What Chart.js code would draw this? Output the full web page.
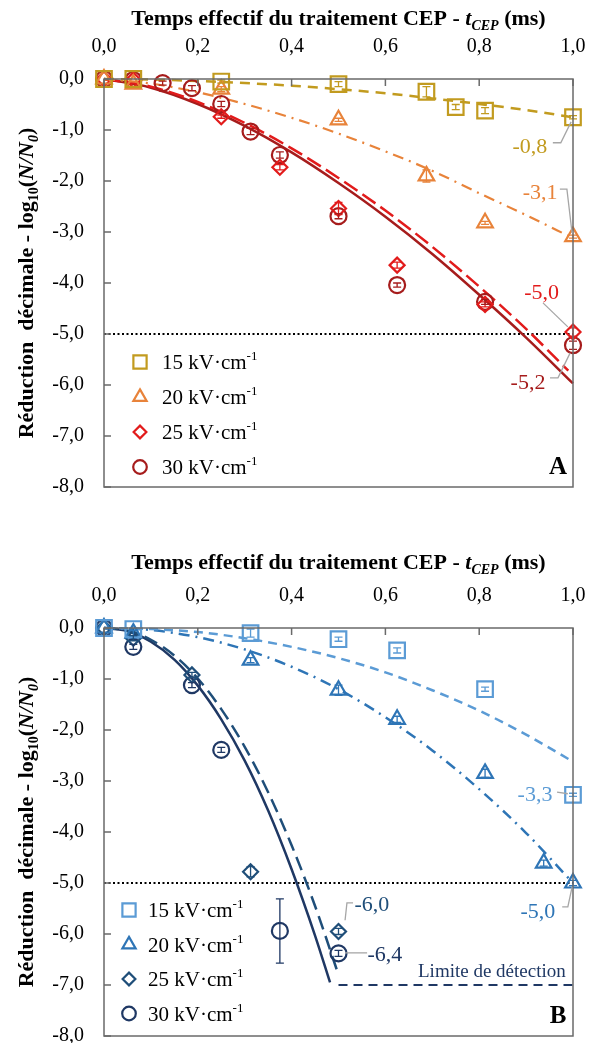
<!DOCTYPE html>
<html>
<head>
<meta charset="utf-8">
<title>Réduction décimale - CEP</title>
<script src="https://cdn.jsdelivr.net/npm/chart.js"></script>
<style>
 body { margin: 0; width: 589px; height: 1043px; overflow: hidden; background: #fff; }
 .panel { position: absolute; left: 0; }
 #boxA { top: 0; }
 #boxB { top: 522px; }
</style>
</head>
<body>
<div class="panel" id="boxA"><canvas id="chartA" width="589" height="522" style="width:589px;height:522px"></canvas></div>
<div class="panel" id="boxB"><canvas id="chartB" width="589" height="530" style="width:589px;height:530px"></canvas></div>

<script>
 // axis ticks
 const xTicks = [0, 0.2, 0.4, 0.6, 0.8, 1.0];
 const yTicks = [0, -1, -2, -3, -4, -5, -6, -7, -8];
 const fieldLabels = ['15', '20', '25', '30'];

 // ---- Panel A : measured points (t in ms, log reduction) ----
 const tA15 = [0, 0.0625, 0.25, 0.5, 0.6875, 0.75, 0.8125, 1.0];
 const yA15 = [0, 0, -0.05, -0.10, -0.25, -0.55, -0.62, -0.75];
 const eA15 = [0, 0, 0.03, 0.05, 0.10, 0.05, 0.06, 0.03];

 const tA20 = [0, 0.0625, 0.25, 0.5, 0.6875, 0.8125, 1.0];
 const yA20 = [0, -0.10, -0.20, -0.80, -1.90, -2.82, -3.09];
 const eA20 = [0, 0, 0.05, 0.03, 0.12, 0.03, 0.03];

 const tA25 = [0, 0.0625, 0.25, 0.375, 0.5, 0.625, 0.8125, 1.0];
 const yA25 = [0, -0.02, -0.74, -1.73, -2.54, -3.65, -4.42, -4.96];
 const eA25 = [0, 0, 0.03, 0.05, 0.12, 0.06, 0.05, 0.08];

 const tA30 = [0, 0.0625, 0.125, 0.1875, 0.25, 0.3125, 0.375, 0.5, 0.625, 0.8125, 1.0];
 const yA30 = [0, -0.02, -0.08, -0.18, -0.49, -1.03, -1.49, -2.69, -4.04, -4.37, -5.22];
 const eA30 = [0, 0, 0.04, 0.05, 0.05, 0.06, 0.06, 0.05, 0.04, 0.05, 0.08];

 // Panel A : fitted curves
 const fitTA = [0, 0.1, 0.2, 0.3, 0.4, 0.5, 0.6, 0.7, 0.8, 0.9, 1.0];
 const fit15A = [0, -0.01, -0.04, -0.08, -0.13, -0.20, -0.28, -0.38, -0.49, -0.61, -0.75];
 const fit20A = [0, -0.09, -0.26, -0.49, -0.76, -1.07, -1.42, -1.80, -2.24, -2.67, -3.12];
 const fitTA25 = [0, 0.1, 0.2, 0.3, 0.4, 0.5, 0.6, 0.7, 0.8, 0.9, 0.99];
 const fit25A = [0, -0.15, -0.45, -0.86, -1.36, -1.94, -2.58, -3.29, -4.07, -4.90, -5.72];
 const fit30A = [0, -0.17, -0.49, -0.92, -1.44, -2.04, -2.70, -3.43, -4.23, -5.07, -5.97];

 // ---- Panel B : measured points ----
 const tB15 = [0, 0.0625, 0.3125, 0.5, 0.625, 0.8125, 1.0];
 const yB15 = [0, -0.02, -0.10, -0.22, -0.44, -1.20, -3.27];
 const eB15 = [0, 0, 0.08, 0.04, 0.05, 0.04, 0.03];

 const tB20 = [0, 0.0625, 0.3125, 0.5, 0.625, 0.8125, 0.9375, 1.0];
 const yB20 = [0, -0.10, -0.63, -1.22, -1.79, -2.85, -4.61, -5.00];
 const eB20 = [0, 0.05, 0.05, 0.10, 0.06, 0.08, 0.06, 0.05];

 const tB25 = [0, 0.0625, 0.1875, 0.3125, 0.5];
 const yB25 = [0, -0.20, -0.92, -4.78, -5.95];
 const eB25 = [0, 0.05, 0.05, 0.10, 0.06];

 const tB30 = [0, 0.0625, 0.1875, 0.25, 0.375, 0.5];
 const yB30 = [0, -0.37, -1.12, -2.39, -5.94, -6.38];
 const eB30 = [0, 0.05, 0.05, 0.05, 0.63, 0.06];

 // Panel B : fitted curves
 const fitTB = [0, 0.1, 0.2, 0.3, 0.4, 0.5, 0.6, 0.7, 0.8, 0.9, 1.0];
 const fit15B = [0, -0.02, -0.08, -0.20, -0.37, -0.59, -0.87, -1.22, -1.62, -2.09, -2.62];
 const fit20B = [0, -0.04, -0.18, -0.42, -0.76, -1.20, -1.75, -2.40, -3.16, -4.02, -5.00];
 const fitTB25 = [0, 0.05, 0.1, 0.15, 0.2, 0.25, 0.3, 0.35, 0.4, 0.45, 0.5];
 const fit25B = [0, -0.05, -0.23, -0.54, -0.99, -1.59, -2.33, -3.22, -4.26, -5.45, -6.80];
 const fitTB30 = [0, 0.05, 0.1, 0.15, 0.2, 0.25, 0.3, 0.35, 0.4, 0.45, 0.482];
 const fit30B = [0, -0.06, -0.27, -0.62, -1.13, -1.79, -2.60, -3.58, -4.73, -6.03, -6.95];

 // reference lines
 const refT = [0, 1.0];
 const refY = [-5, -5];
 const limT = [0.5, 1.0];
 const limY = [-7, -7];

 // value labels with leader lines (data coordinates)
 const notesA = [
  { text: '-0,8', at: [0.908, -1.33], path: [[0.957, -1.25], [0.974, -1.25], [0.996, -0.84]], c: 0 },
  { text: '-3,1', at: [0.930, -2.24], path: [[0.972, -2.16], [0.987, -2.16], [0.998, -3.02]], c: 1 },
  { text: '-5,0', at: [0.933, -4.20], path: [[0.936, -4.39], [0.989, -4.86]], c: 2 },
  { text: '-5,2', at: [0.904, -5.96], path: [[0.951, -5.86], [0.968, -5.86], [0.994, -5.37]], c: 3 }
 ];
 const notesB = [
  { text: '-3,3', at: [0.919, -3.27], path: [[0.966, -3.22], [0.989, -3.25]], c: 0 },
  { text: '-5,0', at: [0.925, -5.57], path: [[0.977, -5.47], [0.989, -5.47], [0.998, -5.08]], c: 1 },
  { text: '-6,0', at: [0.571, -5.43], path: [[0.531, -5.39], [0.518, -5.39], [0.514, -5.73]], c: 2 },
  { text: '-6,4', at: [0.599, -6.41], path: [[0.561, -6.37], [0.514, -6.37]], c: 3 }
 ];

 const colorsA = ['#C29B1F', '#E8833A', '#E21B1B', '#A61C1C'];
 const colorsB = ['#5B9BD5', '#2E75B6', '#1F4E79', '#1F3864'];
 const styles = ['rect', 'triangle', 'rectRot', 'circle'];
 const radii = [11, 9, 7.5, 8];
 const FONT = '"Liberation Serif", "Times New Roman", serif';

 const fmt = v => (Math.abs(v) < 1e-9 ? 0 : v).toFixed(1).replace('.', ',');
 const pts = (xs, ys) => xs.map((x, i) => ({ x: x, y: ys[i] }));

 function markerSet(label, xs, ys, errs, color, k) {
  return {
   type: 'scatter', label: label, data: pts(xs, ys), errors: errs,
   pointStyle: styles[k], pointRadius: radii[k], pointHoverRadius: radii[k],
   pointBorderWidth: 2.2, borderColor: color, pointBorderColor: color,
   backgroundColor: 'rgba(255,255,255,0)', showLine: false, clip: false
  };
 }

 function lineSet(xs, ys, color, dash, width) {
  return {
   type: 'line', data: pts(xs, ys), borderColor: color, borderWidth: width,
   borderDash: dash, pointRadius: 0, pointHoverRadius: 0,
   cubicInterpolationMode: 'monotone', fill: false, clip: false
  };
 }

 // text made of pieces (italic, subscript, superscript)
 function drawRich(ctx, segs, cx, cy, align) {
  let w = 0;
  segs.forEach(s => { ctx.font = s.font; w += ctx.measureText(s.t).width; });
  let xx = align === 'left' ? cx : cx - w / 2;
  ctx.textAlign = 'left';
  ctx.textBaseline = 'alphabetic';
  segs.forEach(s => {
   ctx.font = s.font;
   ctx.fillText(s.t, xx, cy + (s.dy || 0));
   xx += ctx.measureText(s.t).width;
  });
 }

 function drawMarker(ctx, k, color, x, y) {
  ctx.save();
  ctx.strokeStyle = color;
  ctx.fillStyle = 'rgba(255,255,255,0)';
  ctx.lineWidth = 2.2;
  Chart.helpers.drawPoint(ctx, { pointStyle: styles[k], radius: radii[k] * 0.85, rotation: 0, borderWidth: 2.2 }, x, y);
  ctx.restore();
 }

 function panelPlugin(cfg) {
  return {
   id: 'panel' + cfg.letter,
   afterDatasetsDraw(chart) {
    const ctx = chart.ctx;
    const a = chart.chartArea;
    const sx = chart.scales.x, sy = chart.scales.y;
    ctx.save();

    // error bars
    chart.data.datasets.forEach(ds => {
     if (!ds.errors) return;
     ctx.strokeStyle = ds.borderColor;
     ctx.lineWidth = 1.3;
     ds.data.forEach((p, i) => {
      const e = ds.errors[i];
      if (!e) return;
      const px = sx.getPixelForValue(p.x);
      const y1 = sy.getPixelForValue(p.y + e), y2 = sy.getPixelForValue(p.y - e);
      ctx.beginPath();
      ctx.moveTo(px, y1); ctx.lineTo(px, y2);
      ctx.moveTo(px - 4, y1); ctx.lineTo(px + 4, y1);
      ctx.moveTo(px - 4, y2); ctx.lineTo(px + 4, y2);
      ctx.stroke();
     });
    });

    // frame and inner ticks
    ctx.strokeStyle = '#6a6a6a';
    ctx.lineWidth = 1.5;
    ctx.strokeRect(a.left, a.top, a.right - a.left, a.bottom - a.top);
    ctx.beginPath();
    xTicks.forEach(v => {
     const px = sx.getPixelForValue(v);
     ctx.moveTo(px, a.top); ctx.lineTo(px, a.top + 7);
    });
    yTicks.forEach(v => {
     const py = sy.getPixelForValue(v);
     ctx.moveTo(a.left, py); ctx.lineTo(a.left + 7, py);
    });
    ctx.stroke();

    // value labels
    cfg.notes.forEach(n => {
     ctx.strokeStyle = '#a6a6a6';
     ctx.lineWidth = 1.3;
     ctx.beginPath();
     n.path.forEach((q, i) => {
      const px = sx.getPixelForValue(q[0]), py = sy.getPixelForValue(q[1]);
      if (i === 0) ctx.moveTo(px, py); else ctx.lineTo(px, py);
     });
     ctx.stroke();
     ctx.fillStyle = cfg.colors[n.c];
     ctx.font = '22px ' + FONT;
     ctx.textAlign = 'center';
     ctx.textBaseline = 'middle';
     ctx.fillText(n.text, sx.getPixelForValue(n.at[0]), sy.getPixelForValue(n.at[1]));
    });

    if (cfg.limitText) {
     ctx.fillStyle = cfg.colors[3];
     ctx.font = '19px ' + FONT;
     ctx.textAlign = 'center';
     ctx.textBaseline = 'middle';
     ctx.fillText(cfg.limitText.text, sx.getPixelForValue(cfg.limitText.at[0]), sy.getPixelForValue(cfg.limitText.at[1]));
    }

    // legend inside the plot
    fieldLabels.forEach((f, k) => {
     const yy = a.top + cfg.legend.top + k * cfg.legend.step;
     drawMarker(ctx, k, cfg.colors[k], a.left + cfg.legend.mx, yy);
     ctx.fillStyle = '#000';
     drawRich(ctx, [
      { t: f + ' kV·cm', font: '21px ' + FONT },
      { t: '-1', font: '13px ' + FONT, dy: -9 }
     ], a.left + cfg.legend.tx, yy + 7, 'left');
    });

    // panel letter
    ctx.fillStyle = '#000';
    ctx.font = 'bold 25px ' + FONT;
    ctx.textAlign = 'center';
    ctx.textBaseline = 'alphabetic';
    ctx.fillText(cfg.letter, a.right - 15, a.bottom - 13);

    // axis titles
    const B = 'bold 22px ' + FONT, BI = 'italic bold 22px ' + FONT;
    const S = 'bold 14px ' + FONT, SI = 'italic bold 14px ' + FONT;
    drawRich(ctx, [
     { t: 'Temps effectif du traitement CEP - ', font: B },
     { t: 't', font: BI },
     { t: 'CEP', font: SI, dy: 5 },
     { t: ' (ms)', font: B }
    ], (a.left + a.right) / 2, a.top - cfg.titleGap);

    ctx.translate(25, (a.top + a.bottom) / 2);
    ctx.rotate(-Math.PI / 2);
    drawRich(ctx, [
     { t: 'Réduction  décimale - log', font: B },
     { t: '10', font: S, dy: 5 },
     { t: '(', font: B },
     { t: 'N/N', font: BI },
     { t: '0', font: SI, dy: 5 },
     { t: ')', font: B }
    ], 0, 8);
    ctx.restore();
   }
  };
 }

 function makeChart(id, datasets, cfg) {
  return new Chart(document.getElementById(id), {
   type: 'scatter',
   data: { datasets: datasets },
   options: {
    responsive: false,
    animation: false,
    events: [],
    layout: { padding: { top: 0, right: 16, bottom: cfg.padBottom, left: 0 } },
    plugins: { legend: { display: false }, tooltip: { enabled: false } },
    scales: {
     x: {
      type: 'linear', position: 'top', min: 0, max: 1,
      afterBuildTicks: s => { s.ticks = xTicks.map(v => ({ value: v })); },
      afterFit: s => { s.height = cfg.top; s.paddingLeft = 0; s.paddingRight = 0; },
      ticks: { color: '#000', font: { family: FONT, size: 20 }, padding: 20, maxRotation: 0, callback: v => fmt(v) },
      grid: { display: false, drawTicks: false },
      border: { display: false }
     },
     y: {
      type: 'linear', min: -8, max: 0,
      afterBuildTicks: s => { s.ticks = yTicks.map(v => ({ value: v })); },
      afterFit: s => { s.width = 104; s.paddingTop = 0; s.paddingBottom = 0; },
      ticks: { color: '#000', font: { family: FONT, size: 20 }, padding: 20, callback: v => fmt(v) },
      grid: { display: false, drawTicks: false },
      border: { display: false }
     }
    }
   },
   plugins: [panelPlugin(cfg)]
  });
 }

 makeChart('chartA', [
  markerSet('15', tA15, yA15, eA15, colorsA[0], 0),
  markerSet('20', tA20, yA20, eA20, colorsA[1], 1),
  markerSet('25', tA25, yA25, eA25, colorsA[2], 2),
  markerSet('30', tA30, yA30, eA30, colorsA[3], 3),
  lineSet(fitTA, fit15A, colorsA[0], [10, 7], 2.5),
  lineSet(fitTA, fit20A, colorsA[1], [11, 6, 2, 6], 2.2),
  lineSet(fitTA25, fit25A, colorsA[2], [16, 6], 2.5),
  lineSet(fitTA, fit30A, colorsA[3], [], 2.5),
  lineSet(refT, refY, '#000', [2, 2.5], 2)
 ], {
  letter: 'A', top: 79, padBottom: 35, titleGap: 54, colors: colorsA, notes: notesA,
  legend: { mx: 36, tx: 58, top: 283, step: 35 }
 });

 makeChart('chartB', [
  markerSet('15', tB15, yB15, eB15, colorsB[0], 0),
  markerSet('20', tB20, yB20, eB20, colorsB[1], 1),
  markerSet('25', tB25, yB25, eB25, colorsB[2], 2),
  markerSet('30', tB30, yB30, eB30, colorsB[3], 3),
  lineSet(fitTB, fit15B, colorsB[0], [9, 6], 2.5),
  lineSet(fitTB, fit20B, colorsB[1], [11, 6, 2, 6], 2.5),
  lineSet(fitTB25, fit25B, colorsB[2], [14, 7], 2.5),
  lineSet(fitTB30, fit30B, colorsB[3], [], 2.5),
  lineSet(limT, limY, colorsB[3], [9, 6], 2.2),
  lineSet(refT, refY, '#000', [2, 2.5], 2)
 ], {
  letter: 'B', top: 106, padBottom: 16, titleGap: 59, colors: colorsB, notes: notesB,
  limitText: { text: 'Limite de détection', at: [0.827, -6.75] },
  legend: { mx: 25, tx: 44, top: 282, step: 34.5 }
 });
</script>
</body>
</html>
